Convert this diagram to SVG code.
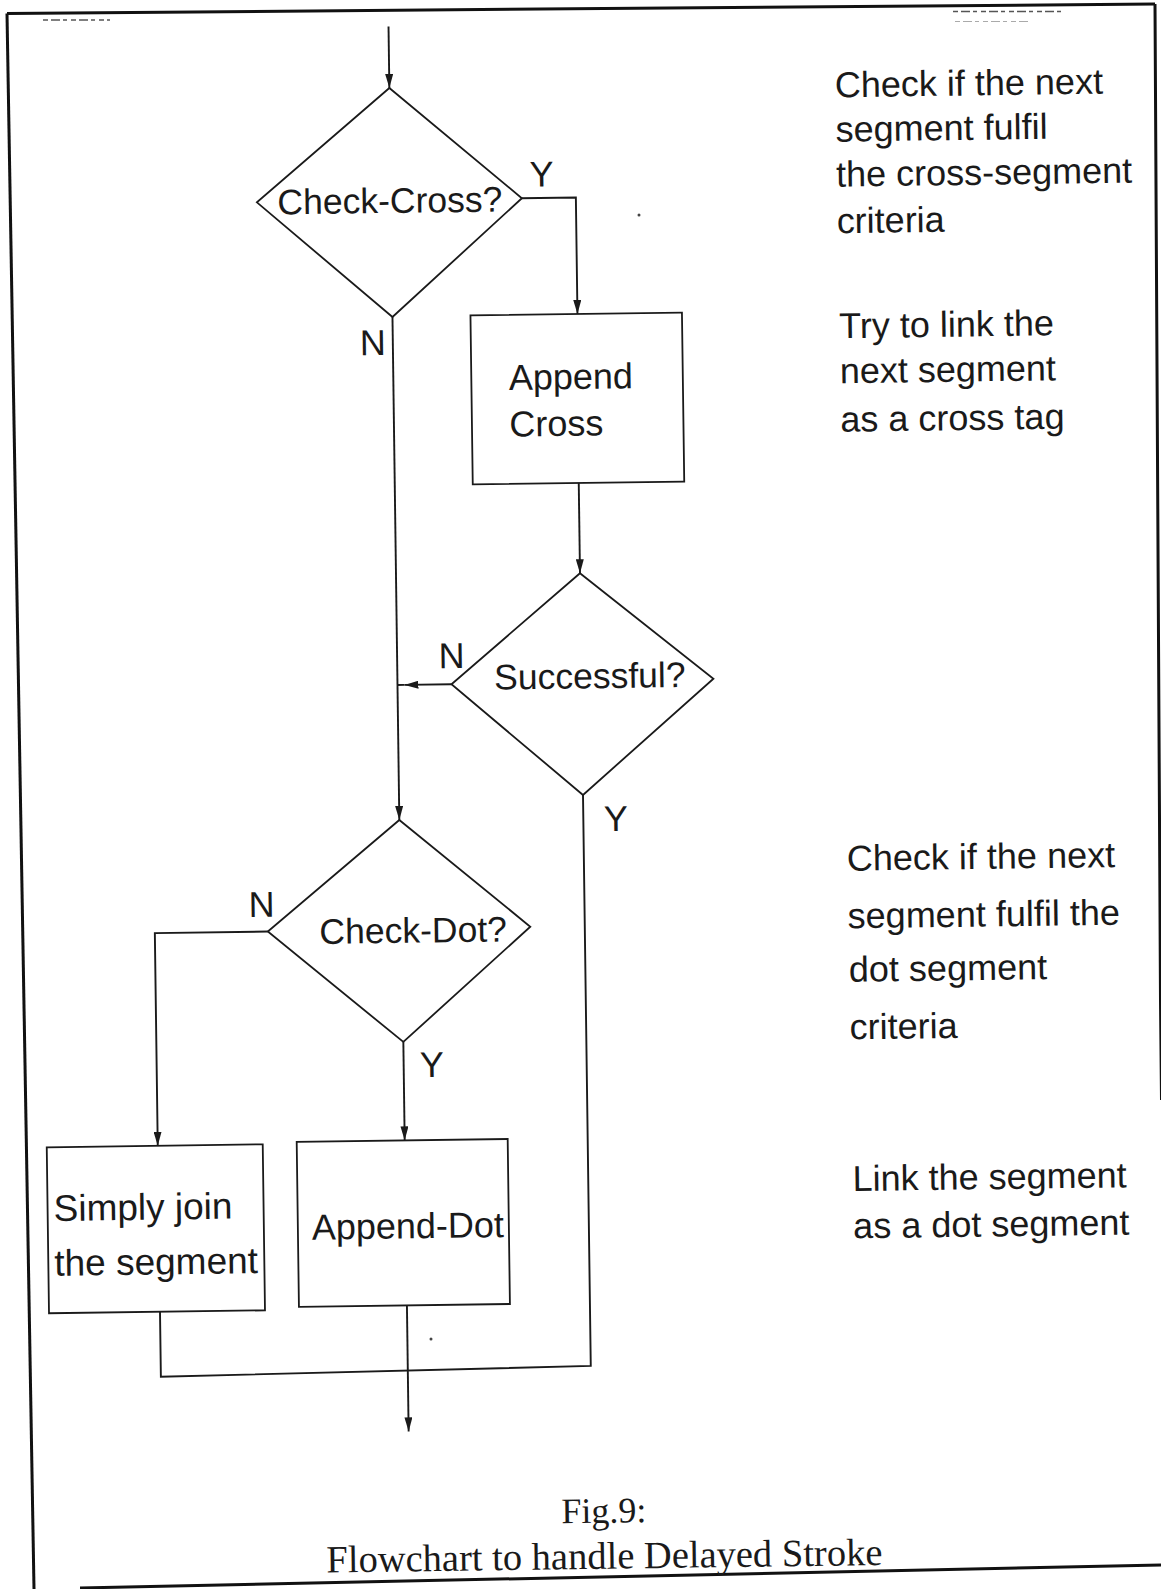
<svg xmlns="http://www.w3.org/2000/svg" width="1161" height="1589" viewBox="0 0 1161 1589">
<style>
.ln{fill:none;stroke:#1a1a1a;stroke-width:1.9}
.shape{fill:none;stroke:#1a1a1a;stroke-width:1.8}
.frame{fill:none;stroke:#111;stroke-width:3}
.t{font-family:"Liberation Sans",Arial,Helvetica,sans-serif;font-size:36px;fill:#1a1a1a}
.d{font-size:35.5px}
.m{text-anchor:middle}
.cap{font-family:"Liberation Serif","Times New Roman",serif;font-size:38.5px;fill:#1a1a1a;text-anchor:middle}
.mark{fill:none;stroke:#555;stroke-width:1.6;stroke-dasharray:5 3 9 3 4 4}
</style>
<defs>
<marker id="arr" markerWidth="14" markerHeight="8" refX="14" refY="4" orient="auto" markerUnits="userSpaceOnUse">
<path d="M0,0 L14,4 L0,8 z" fill="#1a1a1a"/>
</marker>
</defs>
<rect x="0" y="0" width="1161" height="1589" fill="#ffffff"/>
<g id="frame">
<path class="frame" d="M7,13.5 L1155,4"/>
<path class="frame" d="M7,13.5 L34,1589"/>
<path class="frame" d="M1155,4 L1160.5,1000 L1161.5,1100"/>
<path class="frame" d="M80,1588 L1161,1565"/>
</g>
<g id="scan-marks">
<path class="mark" d="M43,20 H110"/>
<path class="mark" d="M953,11.5 H1065"/>
<path class="mark" d="M955,21.5 H1030" style="stroke:#aaa;stroke-width:1.2"/>
<circle cx="639" cy="215" r="1.5" fill="#444"/>
<circle cx="431" cy="1339" r="1.5" fill="#444"/>
</g>
<g id="diagram" transform="rotate(-0.78 580 795)">
<g id="connectors">
<path class="ln" d="M399,24 V85.5" marker-end="url(#arr)"/>
<path class="ln" d="M529,197.5 H584 V314" marker-end="url(#arr)"/>
<path class="ln" d="M583,483 V573.3" marker-end="url(#arr)"/>
<path class="ln" d="M453,682.5 H406" marker-end="url(#arr)"/>
<path class="ln" d="M406,682.5 H399"/>
<path class="ln" d="M399,314.5 V817.5" marker-end="url(#arr)"/>
<path class="ln" d="M266,927.3 H153 V1140" marker-end="url(#arr)"/>
<path class="ln" d="M400,1039.5 V1138" marker-end="url(#arr)"/>
<path class="ln" d="M583,795 V1366 L153,1371 V1306"/>
<path class="ln" d="M400,1303 V1429" marker-end="url(#arr)"/>
</g>
<g id="node-check-cross">
<polygon class="shape" points="399,85.5 530,197.5 399,314.5 265,198"/>
<text class="t d m" x="398" y="210.4">Check-Cross?</text>
</g>
<g id="node-append-cross">
<rect class="shape" x="477" y="314" width="211.5" height="169"/>
<text class="t" x="514.5" y="389">Append</text>
<text class="t" x="514.5" y="435.7">Cross</text>
</g>
<g id="node-successful">
<polygon class="shape" points="583,573.3 715,680.5 583,795 453,682.5"/>
<text class="t d m" x="591.5" y="688.4">Successful?</text>
</g>
<g id="node-check-dot">
<polygon class="shape" points="399,817.5 528.5,926 400,1039.5 266,927.3"/>
<text class="t d m" x="411.3" y="940.4">Check-Dot?</text>
</g>
<g id="node-simply-join">
<rect class="shape" x="42" y="1140" width="216" height="166"/>
<text class="t" x="48" y="1213.8" style="font-size:37px">Simply join</text>
<text class="t" x="48" y="1268.6" style="font-size:37px">the segment</text>
</g>
<g id="node-append-dot">
<rect class="shape" x="292" y="1138" width="211" height="165"/>
<text class="t m" x="402" y="1236">Append-Dot</text>
</g>
<g id="labels">
<text class="t m" x="550" y="186.2">Y</text>
<text class="t m" x="379" y="352.2">N</text>
<text class="t m" x="453.4" y="666.3">N</text>
<text class="t m" x="615.5" y="831.5">Y</text>
<text class="t m" x="260" y="912.4">N</text>
<text class="t m" x="428.2" y="1075">Y</text>
</g>
<g id="notes">
<text class="t" x="844.5" y="100.8">Check if the next</text>
<text class="t" x="844.5" y="145.2">segment fulfil</text>
<text class="t" x="844.5" y="190.2">the cross-segment</text>
<text class="t" x="844.5" y="236.8">criteria</text>
<text class="t" x="845.5" y="341.8">Try to link the</text>
<text class="t" x="845.5" y="386.8">next segment</text>
<text class="t" x="845.5" y="435.3">as a cross tag</text>
<text class="t" x="846" y="874.3">Check if the next</text>
<text class="t" x="846" y="932">segment fulfil the</text>
<text class="t" x="846.5" y="985.4">dot segment</text>
<text class="t" x="846.5" y="1043">criteria</text>
<text class="t" x="847.3" y="1194.7">Link the segment</text>
<text class="t" x="847.3" y="1242">as a dot segment</text>
</g>
<g id="caption">
<text class="cap" x="594" y="1523" style="font-size:36px">Fig.9:</text>
<text class="cap" x="594" y="1569">Flowchart to handle Delayed Stroke</text>
</g>
</g>
</svg>
